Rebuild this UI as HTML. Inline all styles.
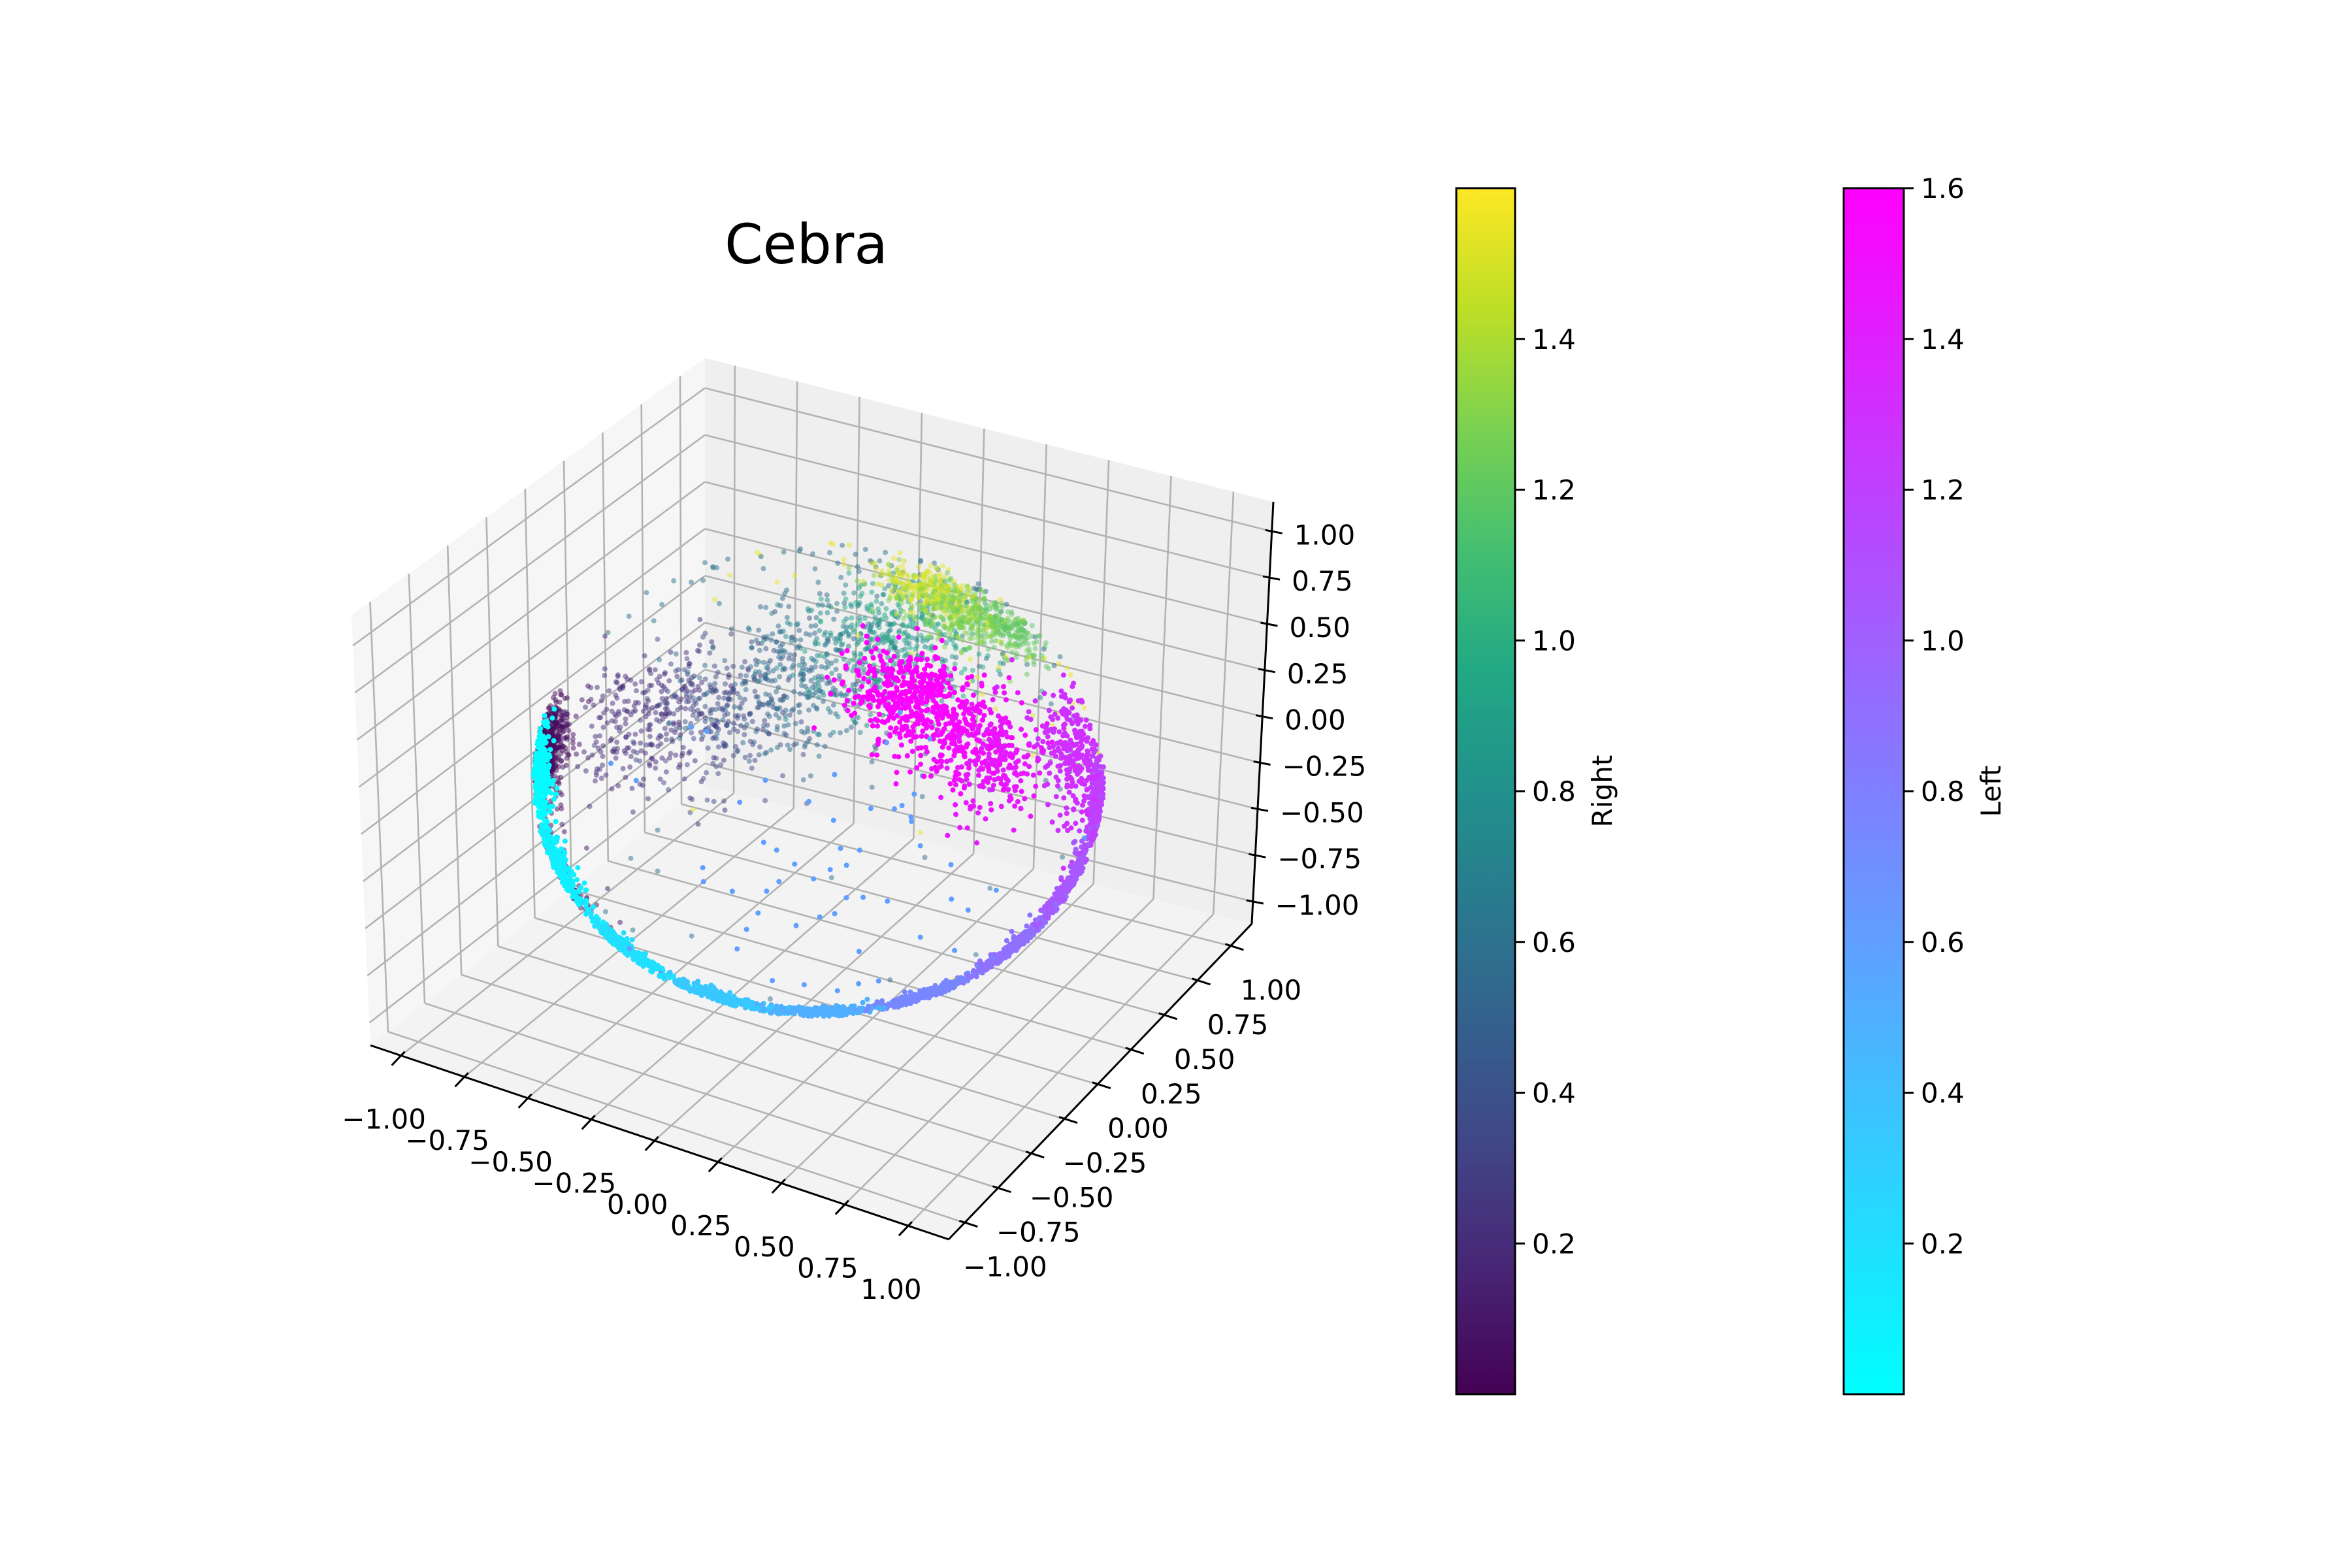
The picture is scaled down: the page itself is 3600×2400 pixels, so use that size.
<!DOCTYPE html>
<html><head><meta charset="utf-8"><style>
html,body{margin:0;padding:0;background:#fff;}
svg{display:block;font-family:"DejaVu Sans","Liberation Sans",sans-serif;}
</style></head><body>
<svg id="fig" width="3600" height="2400" viewBox="0 0 3600 2400" xmlns="http://www.w3.org/2000/svg">
<defs>
<linearGradient id="gViridis" x1="0" y1="1" x2="0" y2="0">
<stop offset="0" stop-color="#440154"/><stop offset="0.1" stop-color="#482475"/><stop offset="0.2" stop-color="#414487"/><stop offset="0.3" stop-color="#355f8d"/><stop offset="0.4" stop-color="#2a788e"/><stop offset="0.5" stop-color="#21918c"/><stop offset="0.6" stop-color="#22a884"/><stop offset="0.7" stop-color="#44bf70"/><stop offset="0.8" stop-color="#7ad151"/><stop offset="0.9" stop-color="#bddf26"/><stop offset="1" stop-color="#fde725"/>
</linearGradient>
<linearGradient id="gCool" x1="0" y1="1" x2="0" y2="0">
<stop offset="0" stop-color="#00ffff"/><stop offset="1" stop-color="#ff00ff"/>
</linearGradient>
</defs>
<rect width="3600" height="2400" fill="#fff"/>
<text x="1234" y="403" font-size="84" text-anchor="middle" fill="#000">Cebra</text>
<g id="axes3d"></g>
<g id="ptsRight"></g>
<g id="ptsLeft"></g>
<g id="cbars"></g>
</svg>
<script>
// ---- data: cluster centres on the embedding sphere ----
const rightX = [-0.92,-0.70,-0.92,-0.76,-0.56,-0.34,-0.17,0.46,0.32,0.56,0.00,0.30];
const rightY = [-0.26,-0.66,0.35,0.63,0.82,0.94,0.96,0.20,0.21,0.35,0.50,0.30];
const rightZ = [0.00,-0.35,-0.15,-0.17,-0.09,0.05,0.21,0.87,0.92,0.75,0.30,0.60];
const rightVal = [0.05,0.08,0.20,0.35,0.55,0.75,0.95,1.30,1.50,1.20,0.60,1.55];
const rightCount = [600,90,240,240,260,260,220,320,190,190,130,70];
const rightSpread = [0.10,0.15,0.17,0.17,0.17,0.17,0.16,0.12,0.10,0.10,0.50,0.35];

const leftX = [-0.81,-0.67,-0.42,-0.06,0.25,0.56,0.81,0.88,0.88,0.92,0.69,0.54,0.86,0.50];
const leftY = [-0.56,-0.69,-0.67,-0.59,-0.43,-0.21,0.04,0.26,0.46,0.20,-0.31,-0.36,-0.22,-0.86];
const leftZ = [0.07,-0.28,-0.64,-0.83,-0.87,-0.82,-0.64,-0.38,-0.09,0.30,0.65,0.76,0.46,0.08];
const leftVal = [0.02,0.10,0.20,0.35,0.50,0.75,0.90,1.05,1.20,1.30,1.55,1.60,1.45,0.60];
const leftCount = [300,230,270,270,270,270,270,250,230,240,300,280,230,60];
const leftSpread = [0.10,0.10,0.10,0.10,0.10,0.10,0.10,0.11,0.12,0.13,0.13,0.11,0.13,0.40];

const axisTicks = [-1.0,-0.75,-0.5,-0.25,0.0,0.25,0.5,0.75,1.0];
const axisTickLabels = ["−1.00","−0.75","−0.50","−0.25","0.00","0.25","0.50","0.75","1.00"];
const cbarTicksRight = [0.2,0.4,0.6,0.8,1.0,1.2,1.4];
const cbarTicksLeft = [0.2,0.4,0.6,0.8,1.0,1.2,1.4,1.6];

const NS = "http://www.w3.org/2000/svg";
function mk(tag, attrs, parent){ const e=document.createElementNS(NS,tag); for(const k in attrs) e.setAttribute(k,attrs[k]); parent.appendChild(e); return e; }

// ---- box projection (trilinear through measured corners) ----
const LO=-1.12, HI=1.16;
const C = {"000":[567,1600],"100":[1452,1897],"110":[1916,1414],"010":[1079,1203],
           "001":[538,942],"101":[1452,1170],"111":[1949,768],"011":[1079,548]};
function nrm(v){ return (v-LO)/(HI-LO); }
function boxP(x,y,z){
  const u=nrm(x), v=nrm(y), w=nrm(z); let sx=0, sy=0;
  for(const a of [0,1]) for(const b of [0,1]) for(const c of [0,1]){
    const wt=(a?u:1-u)*(b?v:1-v)*(c?w:1-w); const p=C[""+a+b+c]; sx+=wt*p[0]; sy+=wt*p[1];
  }
  return [sx,sy];
}
const ax = document.getElementById('axes3d');
function poly(pts, fill, name){
  const e=mk('polygon',{points:pts.map(p=>p.join(',')).join(' '),fill:fill,stroke:'none'},ax);
  
  
}
poly([boxP(LO,LO,LO),boxP(LO,HI,LO),boxP(LO,HI,HI),boxP(LO,LO,HI)],'#f6f6f6','left-pane');
poly([boxP(LO,HI,LO),boxP(HI,HI,LO),boxP(HI,HI,HI),boxP(LO,HI,HI)],'#efefef','back-pane');
poly([boxP(LO,LO,LO),boxP(HI,LO,LO),boxP(HI,HI,LO),boxP(LO,HI,LO)],'#f3f3f3','floor-pane');
function line(p,q,stroke,w,name){
  const e=mk('line',{x1:p[0],y1:p[1],x2:q[0],y2:q[1],stroke:stroke,'stroke-width':w,'stroke-linecap':'butt'},ax);
  
  
  return e;
}
const GC='#b3b3b3', GW=2.6;
axisTicks.forEach(t=>{
  line(boxP(LO,t,LO),boxP(LO,t,HI),GC,GW,'gridline-left-y');
  line(boxP(LO,LO,t),boxP(LO,HI,t),GC,GW,'gridline-left-z');
  line(boxP(t,HI,LO),boxP(t,HI,HI),GC,GW,'gridline-back-x');
  line(boxP(LO,HI,t),boxP(HI,HI,t),GC,GW,'gridline-back-z');
  line(boxP(t,LO,LO),boxP(t,HI,LO),GC,GW,'gridline-floor-x');
  line(boxP(LO,t,LO),boxP(HI,t,LO),GC,GW,'gridline-floor-y');
});
line(boxP(LO,LO,LO),boxP(HI,LO,LO),'#000',3,'x-axis-line');
line(boxP(HI,LO,LO),boxP(HI,HI,LO),'#000',3,'y-axis-line');
line(boxP(HI,HI,LO),boxP(HI,HI,HI),'#000',3,'z-axis-line');
function txt(x,y,s,anchor,name){
  const e=mk('text',{x:x,y:y,'font-size':42,'text-anchor':anchor,fill:'#000'},ax);
  e.textContent=s;
  
  
}
axisTicks.forEach((t,i)=>{
  const px=boxP(t,LO,LO);
  line([px[0]+6,px[1]-6],[px[0]-14,px[1]+15],'#000',3,'x-tick');
  txt(px[0]-26,px[1]+112,axisTickLabels[i],'middle','x-tick-label');
  const py=boxP(HI,t,LO);
  line([py[0]-8,py[1]-3],[py[0]+20,py[1]+6],'#000',3,'y-tick');
  txt(py[0]+62,py[1]+82,axisTickLabels[i],'middle','y-tick-label');
  const pz=boxP(HI,HI,t);
  line([pz[0]-10,pz[1]-2],[pz[0]+16,pz[1]+3],'#000',3,'z-tick');
  txt(pz[0]+34,pz[1]+20,axisTickLabels[i],'start','z-tick-label');
});

// ---- scatter projection (orthographic view, elev 30 / azim -60) ----
const U=[0.866,0.5,0], W=[-0.25,0.433,0.866], CAM=[0.433,-0.75,0.5];
const CX=1253, CY=1193, SX=437, SY=363;
function dot(a,b){return a[0]*b[0]+a[1]*b[1]+a[2]*b[2];}
let seed=12345;
function rnd(){ seed|=0; seed=seed+0x6D2B79F5|0; let t=Math.imul(seed^seed>>>15,1|seed); t=t+Math.imul(t^t>>>7,61|t)^t; return ((t^t>>>14)>>>0)/4294967296; }
function gauss(){ let u=0,v=0; while(u===0)u=rnd(); v=rnd(); return Math.sqrt(-2*Math.log(u))*Math.cos(2*Math.PI*v); }
const vir=["#440154","#482475","#414487","#355f8d","#2a788e","#21918c","#22a884","#44bf70","#7ad151","#bddf26","#fde725"];
function hex(h){return [parseInt(h.substr(1,2),16),parseInt(h.substr(3,2),16),parseInt(h.substr(5,2),16)];}
function viridis(t){ t=Math.max(0,Math.min(1,t)); const f=t*10, i=Math.min(9,Math.floor(f)), r=f-i; const a=hex(vir[i]), b=hex(vir[i+1]);
  return 'rgb('+a.map((c,k)=>Math.round(c+(b[k]-c)*r)).join(',')+')'; }
function cool(t){ t=Math.max(0,Math.min(1,t)); return 'rgb('+Math.round(255*t)+','+Math.round(255*(1-t))+',255)'; }
function buildPoints(X,Y,Z,V,N,S){
  const pts=[];
  for(let i=0;i<X.length;i++){
    for(let k=0;k<N[i];k++){
      let p=[X[i]+S[i]*gauss(), Y[i]+S[i]*gauss(), Z[i]+S[i]*gauss()];
      const L=Math.hypot(p[0],p[1],p[2])||1; const r=0.97+0.03*rnd();
      p=p.map(c=>c/L*r);
      pts.push({p:p,v:V[i]});
    }
  }
  pts.sort((a,b)=>dot(a.p,CAM)-dot(b.p,CAM));
  return pts;
}
function drawPts(gid,pts,cmap,op,name){
  const g=document.getElementById(gid);
  pts.forEach(o=>{
    const sx=CX+SX*dot(o.p,U), sy=CY-SY*dot(o.p,W);
    const c=mk('circle',{cx:sx.toFixed(1),cy:sy.toFixed(1),r:4,fill:cmap(o.v/1.6),'fill-opacity':op},g);
    
    
  });
}
drawPts('ptsRight',buildPoints(rightX,rightY,rightZ,rightVal,rightCount,rightSpread),viridis,0.5,'right-point');
drawPts('ptsLeft',buildPoints(leftX,leftY,leftZ,leftVal,leftCount,leftSpread),cool,1,'left-point');

// ---- colorbars ----
const cb=document.getElementById('cbars');
const CBT=288, CBB=2134;
function cbY(v){ return CBB-(v/1.6)*(CBB-CBT); }
function colorbar(x0,w,grad,ticks,label,name){
  const r=mk('rect',{x:x0,y:CBT,width:w,height:CBB-CBT,fill:'url(#'+grad+')',stroke:'#000','stroke-width':3},cb);
  
  
  ticks.forEach(v=>{
    const y=cbY(v);
    const t=mk('line',{x1:x0+w,y1:y,x2:x0+w+15,y2:y,stroke:'#000','stroke-width':3},cb);
    
    
    const s=mk('text',{x:x0+w+26,y:y+15,'font-size':42,fill:'#000'},cb);
    s.textContent=v.toFixed(1);
    
    
  });
  const lx=x0+w+148, ly=(CBT+CBB)/2;
  const l=mk('text',{x:lx,y:ly,'font-size':42,'text-anchor':'middle',fill:'#000',transform:'rotate(-90 '+lx+' '+ly+')'},cb);
  l.textContent=label;
  
  
}
colorbar(2229,90,'gViridis',cbarTicksRight,'Right','right-colorbar');
colorbar(2822,92,'gCool',cbarTicksLeft,'Left','left-colorbar');
</script>
</body></html>
